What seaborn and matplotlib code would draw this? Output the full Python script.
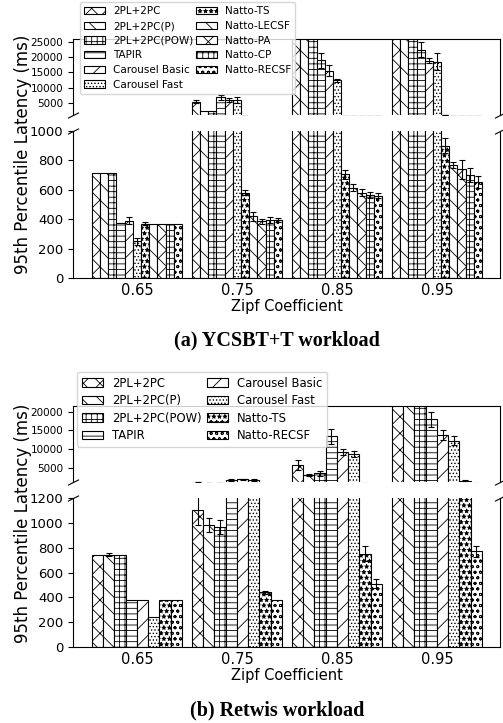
import numpy as np
import pandas as pd
import seaborn as sns
import matplotlib.pyplot as plt

plt.rcParams['hatch.linewidth'] = 0.6

zipf = ['0.65', '0.75', '0.85', '0.95']

# (a) YCSBT+T workload, p95 latency in ms (bars clipped at the top get 40000)
ycsb_names = ['2PL+2PC', '2PL+2PC(P)', '2PL+2PC(POW)', 'TAPIR', 'Carousel Basic',
              'Carousel Fast', 'Natto-TS', 'Natto-LECSF', 'Natto-PA', 'Natto-CP',
              'Natto-RECSF']
ycsb_p95 = [[715, 5300, 40000, 40000],
            [715, 2200, 40000, 40000],
            [715, 2200, 40000, 40000],
            [375, 6800, 19000, 22500],
            [390, 6000, 15500, 18800],
            [250, 5800, 12500, 18500],
            [370, 580, 705, 900],
            [370, 420, 615, 765],
            [370, 385, 580, 740],
            [370, 395, 565, 700],
            [370, 395, 560, 650]]
ycsb_err = [[0, 500, 0, 0],
            [0, 0, 0, 0],
            [0, 0, 0, 0],
            [0, 800, 2500, 2500],
            [25, 700, 1800, 800],
            [25, 1000, 500, 2800],
            [10, 15, 30, 50],
            [0, 30, 25, 20],
            [0, 15, 25, 65],
            [0, 20, 20, 45],
            [0, 15, 15, 40]]
ycsb_hatch = ['xx', '\\\\', '+++', '---', '//', '.....', '***', '\\\\', 'xx', '+++', 'ooo']

# (b) Retwis workload
retwis_names = ['2PL+2PC', '2PL+2PC(P)', '2PL+2PC(POW)', 'TAPIR', 'Carousel Basic',
                'Carousel Fast', 'Natto-TS', 'Natto-RECSF']
retwis_p95 = [[740, 1100, 5700, 40000],
              [745, 985, 3000, 40000],
              [740, 965, 3500, 40000],
              [380, 1700, 13500, 18000],
              [380, 1900, 9200, 13700],
              [243, 1700, 8800, 12300],
              [380, 440, 750, 1500],
              [380, 380, 510, 770]]
retwis_err = [[0, 120, 1400, 0],
              [10, 55, 300, 0],
              [0, 55, 700, 0],
              [0, 200, 2000, 2000],
              [0, 150, 900, 1300],
              [0, 200, 800, 1100],
              [0, 15, 60, 150],
              [0, 0, 35, 45]]
retwis_hatch = ['xx', '\\\\', '+++', '---', '//', '.....', '***', 'ooo']


def to_df(names, vals):
    rows = []
    for n, v in zip(names, vals):
        for z, y in zip(zipf, v):
            rows.append((z, n, y))
    return pd.DataFrame(rows, columns=['zipf', 'system', 'lat'])


def draw_bars(ax, names, vals, errs, hatches):
    df = to_df(names, vals)
    sns.barplot(data=df, x='zipf', y='lat', hue='system', order=zipf, hue_order=names,
                palette=['white'] * len(names), saturation=1, edgecolor='black',
                linewidth=0.8, width=0.9, gap=0, errorbar=None, legend=False, ax=ax)
    for cont, h in zip(ax.containers, hatches):
        for p in cont:
            p.set_hatch(h)
    # error bars on the bar centres
    for cont, v, e in zip(ax.containers, vals, errs):
        xs = [p.get_x() + p.get_width() / 2 for p in cont]
        keep = [i for i in range(len(e)) if e[i] > 0]
        if keep:
            ax.errorbar([xs[i] for i in keep], [v[i] for i in keep],
                        yerr=[e[i] for i in keep], fmt='none', ecolor='black',
                        elinewidth=0.8, capsize=2, capthick=0.8)
    ax.set_xlim(-0.64, 3.63)
    ax.set_xlabel('')
    ax.set_ylabel('')


def broken_panel(ax_up, ax_lo, names, vals, errs, hatches, up_lim, up_ticks, lo_lim, lo_ticks):
    draw_bars(ax_up, names, vals, errs, hatches)
    draw_bars(ax_lo, names, vals, errs, hatches)
    ax_up.set_ylim(*up_lim)
    ax_up.set_yticks(up_ticks)
    ax_lo.set_ylim(*lo_lim)
    ax_lo.set_yticks(lo_ticks)
    ax_up.spines['bottom'].set_visible(False)
    ax_lo.spines['top'].set_visible(False)
    ax_up.tick_params(axis='x', bottom=False, labelbottom=False)
    ax_up.tick_params(axis='y', labelsize=7.5)
    ax_lo.tick_params(axis='y', labelsize=9.5)
    ax_lo.tick_params(axis='x', length=0, labelsize=10.5)
    ax_lo.set_xlabel('Zipf Coefficient', fontsize=10.5, labelpad=1)
    d = 0.5
    kw = dict(marker=[(-1, -d), (1, d)], markersize=8, linestyle='none',
              color='k', mec='k', mew=0.8, clip_on=False)
    ax_up.plot([0, 1], [0, 0], transform=ax_up.transAxes, **kw)
    ax_lo.plot([0, 1], [1, 1], transform=ax_lo.transAxes, **kw)


fig = plt.figure(figsize=(5.03, 7.23), dpi=100)
a_up = fig.add_axes([0.145, 0.841, 0.849, 0.105])
a_lo = fig.add_axes([0.145, 0.6155, 0.849, 0.2035])
b_up = fig.add_axes([0.145, 0.3333, 0.849, 0.105])
b_lo = fig.add_axes([0.145, 0.1051, 0.849, 0.2061])

broken_panel(a_up, a_lo, ycsb_names, ycsb_p95, ycsb_err, ycsb_hatch,
             (1000, 26000), [5000, 10000, 15000, 20000, 25000],
             (0, 1000), [0, 200, 400, 600, 800, 1000])
broken_panel(b_up, b_lo, retwis_names, retwis_p95, retwis_err, retwis_hatch,
             (1200, 21500), [5000, 10000, 15000, 20000],
             (0, 1200), [0, 200, 400, 600, 800, 1000, 1200])

a_up.legend(a_up.containers, ycsb_names, ncol=2, fontsize=7.5, loc='upper left',
            bbox_to_anchor=(0.159, 0.997), bbox_transform=fig.transFigure,
            borderaxespad=0, labelspacing=0.45, columnspacing=0.3,
            handlelength=2.0, handletextpad=0.75)
b_up.legend(b_up.containers, retwis_names, ncol=2, fontsize=8.4, loc='upper left',
            bbox_to_anchor=(0.153, 0.4855), bbox_transform=fig.transFigure,
            borderaxespad=0, labelspacing=0.38, columnspacing=0.45,
            handlelength=1.8, handletextpad=0.8)

fig.text(0.046, 0.786, '95th Percentile Latency (ms)', rotation=90, fontsize=12,
         ha='center', va='center')
fig.text(0.046, 0.276, '95th Percentile Latency (ms)', rotation=90, fontsize=12,
         ha='center', va='center')

fig.text(0.551, 0.5297, '(a) YCSBT+T workload', fontsize=14.5, fontweight='bold',
         family='Liberation Serif', ha='center', va='center')
fig.text(0.551, 0.018, '(b) Retwis workload', fontsize=14.5, fontweight='bold',
         family='Liberation Serif', ha='center', va='center')

fig.savefig('out.png', dpi=100)
